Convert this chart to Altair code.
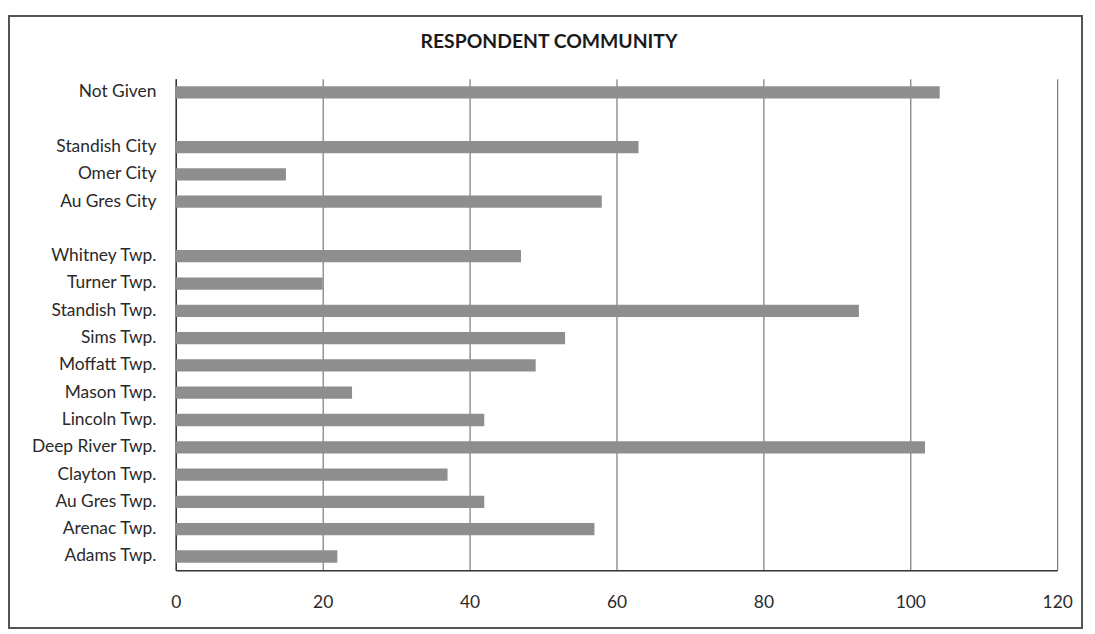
import altair as alt
import pandas as pd

categories = ["Not Given", " ", "Standish City", "Omer City", "Au Gres City", "  ",
              "Whitney Twp.", "Turner Twp.", "Standish Twp.", "Sims Twp.", "Moffatt Twp.",
              "Mason Twp.", "Lincoln Twp.", "Deep River Twp.", "Clayton Twp.",
              "Au Gres Twp.", "Arenac Twp.", "Adams Twp."]
values = [104, None, 63, 15, 58, None, 47, 20, 93, 53, 49, 24, 42, 102, 37, 42, 57, 22]
x_ticks = [0, 20, 40, 60, 80, 100, 120]
title_text = "RESPONDENT COMMUNITY"

df = pd.DataFrame({"community": categories, "count": values})

FONT = "Lato"
LABEL_SIZE = 17.5

bars = alt.Chart(df).mark_bar(color="#8e8e8e").encode(
    x=alt.X("count:Q",
            scale=alt.Scale(domain=[0, 120], nice=False),
            axis=alt.Axis(values=x_ticks, title=None, grid=True, gridColor="#5e5e5e",
                          gridWidth=1, ticks=False, domainColor="#333333", domainWidth=1.5,
                          labelFlush=False, labelPadding=24, labelFontSize=LABEL_SIZE,
                          labelColor="#2a2a2a", labelFont=FONT)),
    y=alt.Y("community:N", sort=categories,
            scale=alt.Scale(domain=categories, paddingInner=0.55, paddingOuter=0.275),
            axis=alt.Axis(title=None, ticks=False, domainColor="#333333", domainWidth=1.5,
                          labelPadding=20, labelFontSize=LABEL_SIZE, labelColor="#2a2a2a",
                          labelFont=FONT)),
)

border = alt.Chart(df).mark_rect(fill=None, stroke="#555555", strokeWidth=1.2, clip=False).encode(
    x=alt.value(-168), x2=alt.value(913), y=alt.value(-63), y2=alt.value(553)
)

title = alt.Chart(pd.DataFrame({"t": [title_text]})).mark_text(
    font=FONT, fontSize=19.5, fontWeight="bold", color="#1a1a1a",
    align="center", baseline="middle", clip=False
).encode(text="t:N", x=alt.value(376), y=alt.value(-37))

chart = alt.layer(border, bars, title).properties(
    width=888, height=495,
    autosize=alt.AutoSizeParams(type="none"),
    padding={"left": 169, "top": 69, "right": 30, "bottom": 60},
).configure_view(stroke=None)

chart.save("out.html", embed_options={"renderer": "svg", "actions": False})
